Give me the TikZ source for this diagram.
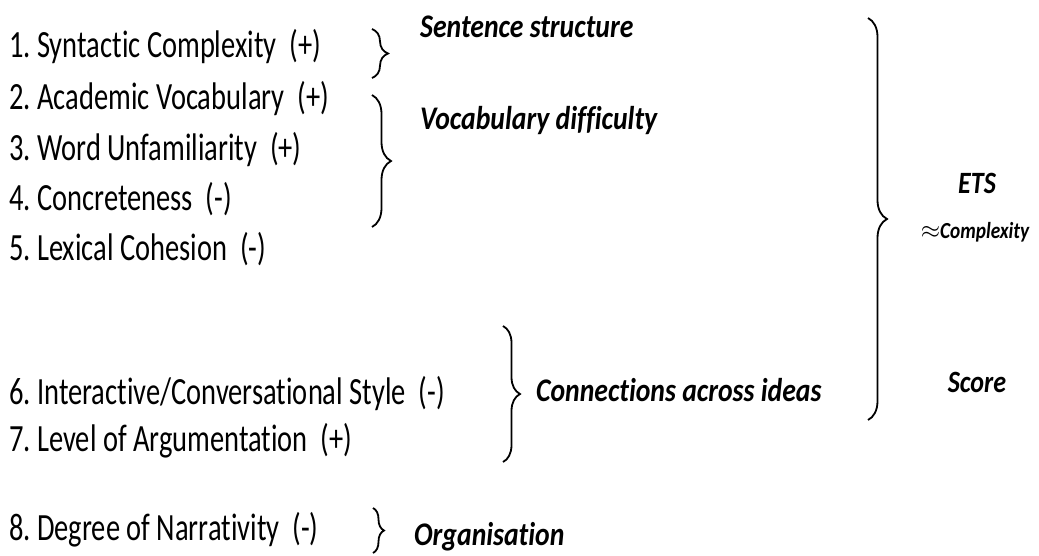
\documentclass[tikz,border=0pt]{standalone}
\usepackage{fontspec}
\setmainfont{Carlito}[Ligatures=NoCommon]
\newfontfamily\itemfont{Carlito}[Ligatures=NoCommon,FakeStretch=0.74]
\newfontfamily\groupfont{Carlito}[Ligatures=NoCommon,FakeStretch=0.84]
\usetikzlibrary{decorations.pathreplacing}
\frenchspacing

\begin{document}
\begin{tikzpicture}[x=1pt,y=-1pt,
  factor/.style={anchor=base west,inner sep=0pt,font=\itemfont\fontsize{38.5}{40}\selectfont},
  grp/.style={anchor=base west,inner sep=0pt,font=\groupfont\fontsize{33}{36}\selectfont\bfseries\itshape},
  ets/.style={anchor=base,inner sep=0pt,font=\groupfont\fontsize{31}{34}\selectfont\bfseries\itshape},
  brc/.style={decorate,decoration={brace,amplitude=#1},line width=1.8pt}]
\useasboundingbox (0,0) rectangle (1039,555);
% measures and their direction
\node[factor] (f1) at (9,57) {1. Syntactic Complexity\ \ (+)};
\node[factor] (f2) at (9,109) {2. Academic Vocabulary\ \ (+)};
\node[factor] (f3) at (9,160) {3. Word Unfamiliarity\ \ (+)};
\node[factor] (f4) at (9,210) {4. Concreteness\ \ (-)};
\node[factor] (f5) at (9,260) {5. Lexical Cohesion\ \ (-)};
\node[factor] (f6) at (9,404) {6. Interactive/Conversational Style\ \ (-)};
\node[factor] (f7) at (9,451) {7. Level of Argumentation\ \ (+)};
\node[factor] (f8) at (9,540) {8. Degree of Narrativity\ \ (-)};
% groups
\node[grp] (g1) at (420,37) {Sentence structure};
\node[grp] (g2) at (420,129) {Vocabulary difficulty};
\node[grp] (g3) at (536,401) {Connections across ideas};
\node[grp] (g4) at (414,545) {Organisation};
% score
\node[ets] (ets) at (977,193) {ETS};
\node[ets,font=\groupfont\fontsize{23}{26}\selectfont\bfseries\itshape] (cx) at (975,238) {{\fontsize{29}{29}\selectfont$\approx$}Complexity};
\node[ets] (sc) at (977,392) {Score};
% brace ends
\coordinate (b1a) at (372,29);  \coordinate (b1b) at (372,78);
\coordinate (b2a) at (372,95);  \coordinate (b2b) at (372,227);
\coordinate (b3a) at (503,326); \coordinate (b3b) at (503,462);
\coordinate (b4a) at (373,508); \coordinate (b4b) at (373,553);
\coordinate (b5a) at (868,18);  \coordinate (b5b) at (868,420);
\draw[brc=16] (b1a) -- (b1b);
\draw[brc=19] (b2a) -- (b2b);
\draw[brc=17] (b3a) -- (b3b);
\draw[brc=11] (b4a) -- (b4b);
\draw[brc=19] (b5a) -- (b5b);
\end{tikzpicture}
\end{document}
